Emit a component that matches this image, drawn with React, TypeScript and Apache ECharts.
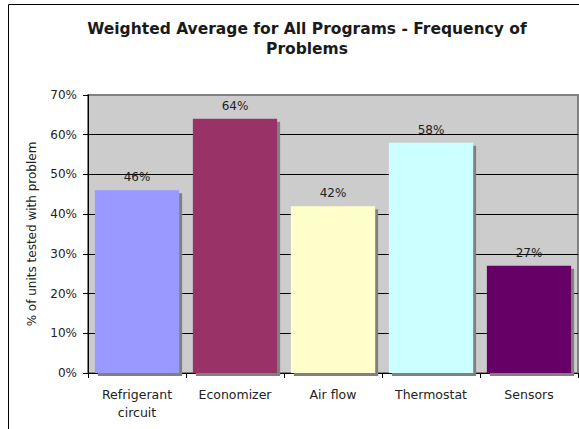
import React, { useEffect, useRef } from "react";
import * as echarts from "echarts";

const categories = ["Refrigerant\ncircuit", "Economizer", "Air flow", "Thermostat", "Sensors"];
const values = [46, 64, 42, 58, 27];
const barColors = ["#9999FF", "#993366", "#FFFFCC", "#CCFFFF", "#660066"];
const yTicks = [0, 10, 20, 30, 40, 50, 60, 70];

const FONT = "DejaVu Sans";

export default function App() {
  const ref = useRef<HTMLDivElement>(null);
  useEffect(() => {
    const chart = echarts.init(ref.current!, null, { renderer: "svg" });
    chart.setOption({
      animation: false,
      backgroundColor: "#FFFFFF",
      textStyle: { fontFamily: FONT },
      title: {
        text: "Weighted Average for All Programs - Frequency of\nProblems",
        left: 302,
        textAlign: "center",
        top: 14,
        textStyle: { fontFamily: FONT, fontSize: 15.5, fontWeight: "bold", color: "#1a1a1a", lineHeight: 20 },
      },
      graphic: [
        {
          type: "rect",
          shape: { x: 8.5, y: 4.5, width: 700, height: 600 },
          style: { fill: "none", stroke: "#000", lineWidth: 1 },
          z: 100,
          silent: true,
        },
      ],
      grid: {
        left: 88,
        top: 95,
        width: 490,
        height: 278,
        show: true,
        backgroundColor: "#CCCCCC",
        borderColor: "#808080",
        borderWidth: 2,
      },
      xAxis: {
        type: "category",
        data: categories,
        axisLine: { lineStyle: { color: "#000", width: 1 } },
        axisTick: { show: true, alignWithLabel: false, length: 5, lineStyle: { color: "#000" } },
        axisLabel: { fontFamily: FONT, fontSize: 12.5, color: "#222", margin: 12, lineHeight: 18, interval: 0 },
      },
      yAxis: {
        type: "value",
        min: 0,
        max: 70,
        interval: 10,
        name: "% of units tested with problem",
        nameLocation: "middle",
        nameRotate: 90,
        nameGap: 50,
        nameTextStyle: { fontFamily: FONT, fontSize: 12, color: "#222" },
        axisLine: { show: true, lineStyle: { color: "#000", width: 1 } },
        axisTick: { show: true, length: 5, lineStyle: { color: "#000" } },
        axisLabel: { fontFamily: FONT, fontSize: 12, color: "#222", formatter: "{value}%", margin: 11 },
        splitLine: { show: true, showMinLine: false, showMaxLine: false, lineStyle: { color: "#000", width: 1 } },
      },
      series: [
        {
          type: "bar",
          data: values.map((v, i) => ({ value: v, itemStyle: { color: barColors[i] } })),
          barCategoryGap: "14%",
          itemStyle: {
            shadowColor: "#808080",
            shadowOffsetX: 3,
            shadowOffsetY: 3,
            shadowBlur: 0,
          },
          label: {
            show: true,
            position: "top",
            distance: 7,
            formatter: "{c}%",
            fontFamily: FONT,
            fontSize: 12,
            color: "#222",
          },
        },
      ],
    });
    return () => chart.dispose();
  }, []);
  return (
    <div
      ref={ref}
      style={{ position: "fixed", left: 0, top: 0, width: 579, height: 429 }}
    />
  );
}
